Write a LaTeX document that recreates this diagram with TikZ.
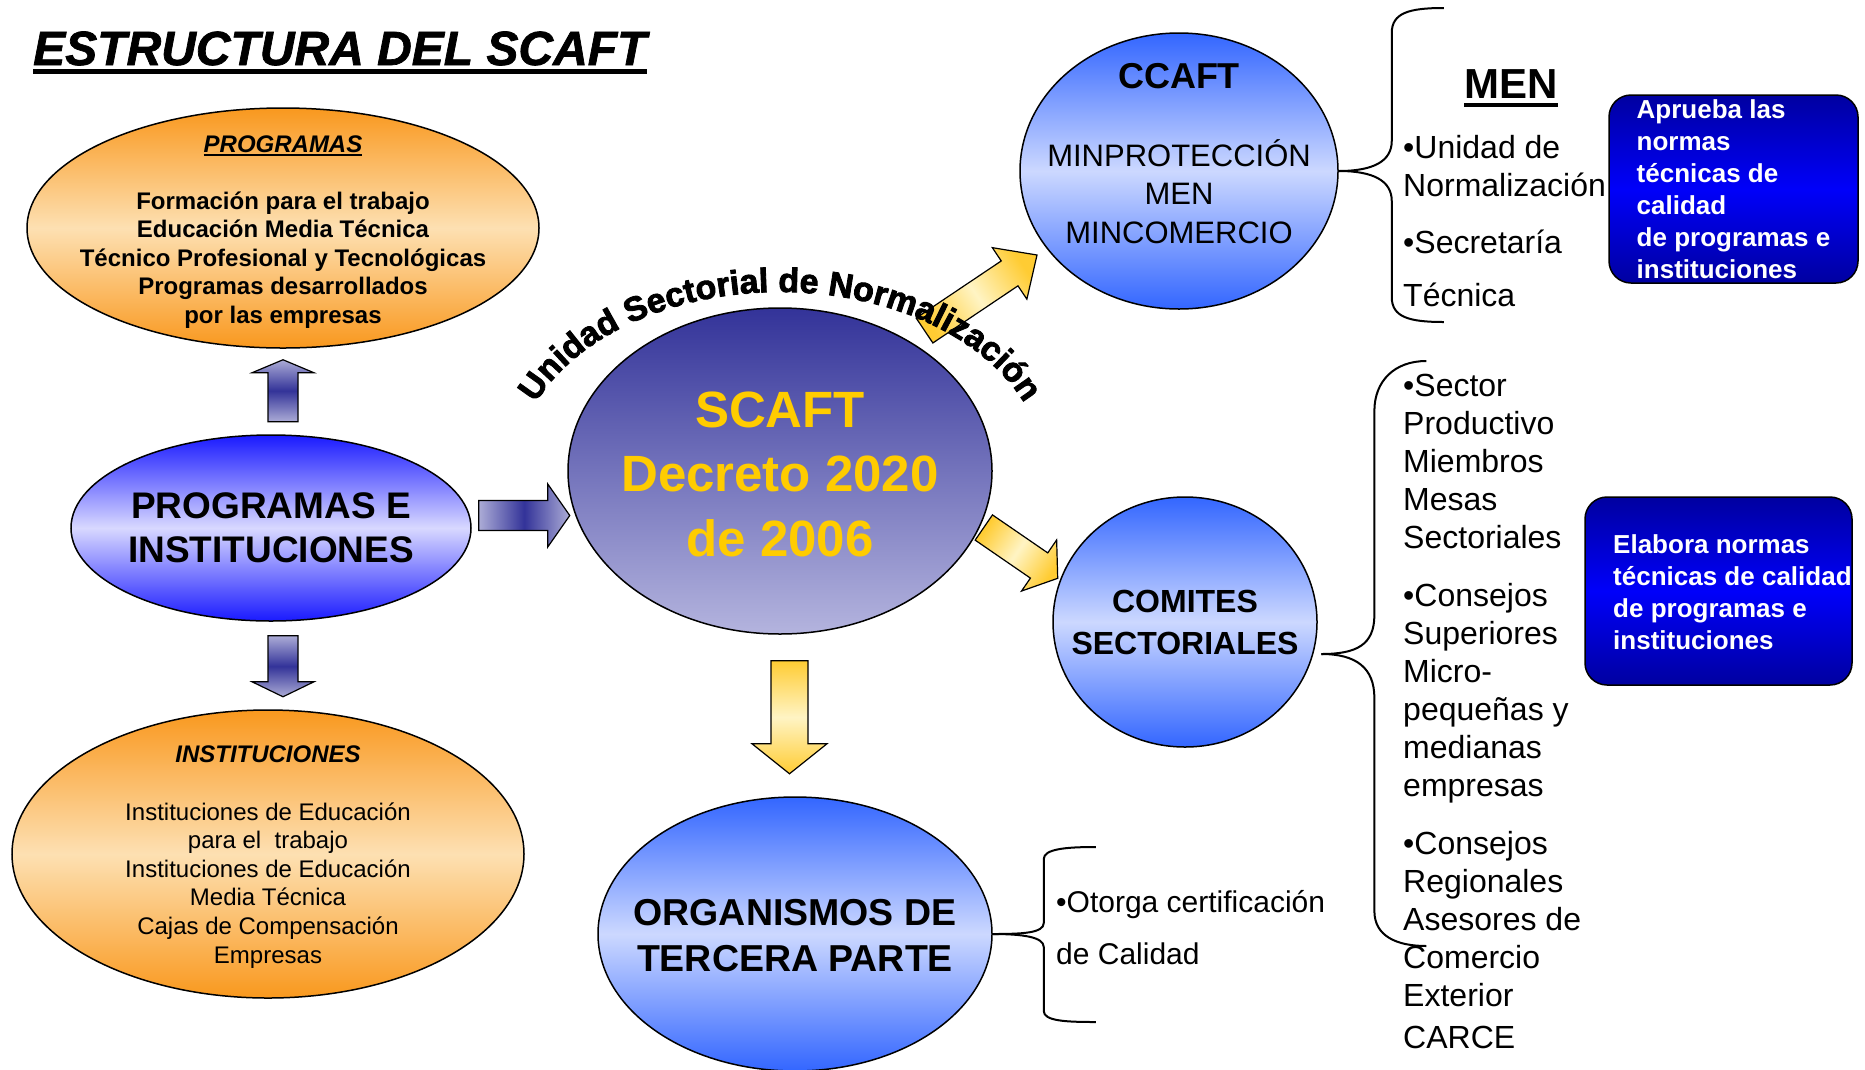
\documentclass[tikz,border=0pt]{standalone}
\usepackage{fontspec}
\setmainfont{Liberation Sans}
\newfontfamily\heavyfont{Liberation Sans Bold}[FakeBold=2.5]
\newfontfamily\heavyitalic{Liberation Sans Bold Italic}[FakeBold=1.5]
\usetikzlibrary{shapes.geometric,calc,decorations.text}

\definecolor{orangeedge}{RGB}{249,152,30}
\definecolor{orangemid}{RGB}{253,224,178}
\definecolor{blueedge}{RGB}{26,26,255}
\definecolor{bluemid}{RGB}{216,216,255}
\definecolor{skyedge}{RGB}{51,102,255}
\definecolor{skymid}{RGB}{204,216,255}
\definecolor{navytop}{RGB}{51,51,153}
\definecolor{navybottom}{RGB}{180,180,222}
\definecolor{boxdark}{RGB}{0,0,160}
\definecolor{boxbright}{RGB}{0,0,250}
\definecolor{scaftgold}{RGB}{255,204,0}
\definecolor{arrowgold}{RGB}{255,204,51}
\definecolor{arrowcream}{RGB}{255,244,196}
\definecolor{arrowlight}{RGB}{172,172,214}
\definecolor{arrowdark}{RGB}{51,51,153}

% underline with own depth and thickness
\newcommand{\ulbar}[3]{\setbox0\hbox{#3}\rlap{\rule[-#1]{\wd0}{#2}}\box0}
\newcommand{\curvefont}{\fontsize{34}{34}\selectfont\heavyfont}
% block arrow: style, tail, tip, half shaft, half head, head length
\newcommand{\blockarrow}[6]{%
  \coordinate (hb) at ($(#3)!#6!(#2)$);
  \shade[#1] ($(#2)!#4!90:(#3)$) -- ($(hb)!#4!-90:(#2)$) -- ($(hb)!#5!-90:(#2)$) -- (#3)
    -- ($(hb)!#5!90:(#2)$) -- ($(hb)!#4!90:(#2)$) -- ($(#2)!#4!-90:(#3)$) -- cycle;}

\tikzset{
  ball/.style={ellipse, draw=black, line width=1.5pt, inner sep=0pt},
  orangeball/.style={ball, top color=orangeedge, bottom color=orangeedge, middle color=orangemid},
  blueball/.style={ball, top color=blueedge, bottom color=blueedge, middle color=bluemid},
  skyball/.style={ball, top color=skyedge, bottom color=skyedge, middle color=skymid},
  balltext/.style={inner sep=0pt, align=center},
  bluebox/.style={rectangle, rounded corners=22pt, draw=black, line width=1.5pt, inner sep=0pt,
    top color=boxdark, bottom color=boxdark, middle color=boxbright, text=white, align=left,
    font=\fontsize{26}{32}\selectfont\bfseries},
  listtext/.style={anchor=north west, inner sep=0pt, align=left},
  bracket/.style={draw=black, line width=2pt},
  vbluearrow/.style={draw=black, line width=1.2pt, top color=arrowlight, bottom color=arrowlight, middle color=arrowdark},
  hbluearrow/.style={draw=black, line width=1.2pt, left color=arrowlight, right color=arrowlight, middle color=arrowdark},
  goldarrow/.style={draw=black, line width=1.2pt, top color=arrowgold, bottom color=arrowgold, middle color=arrowcream}
}

\begin{document}
\begin{tikzpicture}[x=1pt,y=-1pt]
  \fill[white] (0,0) rectangle (1865,1069);
  \useasboundingbox (0,0) rectangle (1865,1069);

  % Drawing title
  \node[anchor=base west, inner sep=0pt, font=\fontsize{48}{55}\selectfont\heavyitalic] (title) at (33,65) {\ulbar{9pt}{5pt}{ESTRUCTURA DEL SCAFT}};

  % Drawing ellipse PROGRAMAS
  \node[orangeball, minimum width=512pt, minimum height=240pt] (programas) at (283,228) {};
  \node[balltext, font=\fontsize{24}{28.5}\selectfont\bfseries] (programaslbl) at ($(programas.center)+(0,4)$)
    {{\itshape\ulbar{3.5pt}{1.5pt}{PROGRAMAS}}\\[28.5pt]Formación para el trabajo\\Educación Media Técnica\\Técnico Profesional y Tecnológicas\\Programas desarrollados\\por las empresas};

  % Drawing ellipse PROGRAMAS E INSTITUCIONES
  \node[blueball, minimum width=400pt, minimum height=186pt] (progins) at (271,528) {};
  \node[balltext, font=\fontsize{37}{44}\selectfont\bfseries] (proginslbl) at (progins.center) {PROGRAMAS E\\INSTITUCIONES};

  % Drawing ellipse INSTITUCIONES
  \node[orangeball, minimum width=512pt, minimum height=288pt] (instituciones) at (268,854) {};
  \node[balltext, font=\fontsize{24}{28.6}\selectfont] (institucioneslbl) at ($(instituciones.center)+(0,3)$)
    {{\bfseries\itshape INSTITUCIONES}\\[28.6pt]Instituciones de Educación\\para el\ \ trabajo\\Instituciones de Educación\\Media Técnica\\Cajas de Compensación\\Empresas};

  % Drawing ellipse SCAFT
  \node[ball, top color=navytop, bottom color=navybottom, minimum width=424pt, minimum height=326pt] (scaft) at (780,471) {};
  \node[balltext, text=scaftgold, font=\fontsize{51}{64.5}\selectfont\bfseries] (scaftlbl) at ($(scaft.center)+(0,3)$) {SCAFT\\Decreto 2020\\de 2006};

  % Drawing ellipse CCAFT
  \node[skyball, minimum width=318pt, minimum height=276pt] (ccaft) at (1179,171) {};
  \node[balltext, font=\fontsize{31}{38.5}\selectfont] (ccaftlbl) at (1179,153.5)
    {{\fontsize{36}{38.5}\selectfont\bfseries CCAFT}\\[39pt]MINPROTECCIÓN\\MEN\\MINCOMERCIO};

  % Marking MEN
  \node[anchor=base, inner sep=0pt, font=\fontsize{42}{46}\selectfont\bfseries] (men) at (1511,98) {\ulbar{9pt}{4pt}{MEN}};
  \node[listtext, font=\fontsize{32}{38}\selectfont] (menlist) at (1403,135) {•Unidad de\\Normalización\\[19pt]•Secretaría\\[15pt]Técnica};
  \node[bluebox, minimum width=249pt, minimum height=188pt] (aprueba) at (1733.5,189)
    {Aprueba las\\normas\\técnicas de\\calidad\\de programas e\\instituciones};

  % Drawing ellipse COMITES SECTORIALES
  \node[skyball, minimum width=264pt, minimum height=250pt] (comites) at (1185,622) {};
  \node[balltext, font=\fontsize{32}{42}\selectfont\bfseries] (comiteslbl) at (comites.center) {COMITES\\SECTORIALES};
  \node[listtext, font=\fontsize{32}{38}\selectfont] (comlist) at (1403,374)
    {•Sector\\Productivo\\Miembros\\Mesas\\Sectoriales\\[20pt]•Consejos\\Superiores\\Micro-\\pequeñas y\\medianas\\empresas\\[20pt]•Consejos\\Regionales\\Asesores de\\Comercio\\Exterior\\[4pt]CARCE};
  \node[bluebox, minimum width=267pt, minimum height=188pt] (elabora) at (1718.5,591) {};
  \node[anchor=west, inner sep=0pt, align=left, text=white, font=\fontsize{26}{32}\selectfont\bfseries] (elaboratxt) at (1613,592.5)
    {Elabora normas\\técnicas de calidad\\de programas e\\instituciones};

  % Drawing ellipse ORGANISMOS DE TERCERA PARTE
  \node[skyball, minimum width=394pt, minimum height=274pt] (organismos) at (795,934) {};
  \node[balltext, font=\fontsize{37.5}{46}\selectfont\bfseries] (organismoslbl) at ($(organismos.center)+(0,2)$) {ORGANISMOS DE\\TERCERA PARTE};
  \node[listtext, font=\fontsize{30}{52}\selectfont] (otorga) at (1056,890) {•Otorga certificación\\de Calidad};

  % Drawing brackets
  \draw[bracket] (ccaft.east) .. controls +(35,0) and +(0,20) .. ++(53,-30) -- ++(0,-108) .. controls +(0,-20) and +(-35,0) .. ++(52,-25);
  \draw[bracket] (ccaft.east) .. controls +(35,0) and +(0,-20) .. ++(53,30) -- ++(0,96) .. controls +(0,20) and +(-35,0) .. ++(52,25);
  \draw[bracket] ([xshift=8pt]comites.-14) .. controls +(35,0) and +(0,30) .. ++(53,-39) -- ++(0,-204) .. controls +(0,-30) and +(-32,0) .. ++(52,-50);
  \draw[bracket] ([xshift=8pt]comites.-14) .. controls +(35,0) and +(0,-30) .. ++(53,44) -- ++(0,213) .. controls +(0,25) and +(-30,0) .. ++(52,35);
  \draw[bracket] (organismos.east) .. controls +(30,0) and +(0,10) .. ++(51,-11) -- ++(0,-64) .. controls +(0,-10) and +(-30,0) .. ++(52,-12);
  \draw[bracket] (organismos.east) .. controls +(30,0) and +(0,-10) .. ++(51,13) -- ++(0,64) .. controls +(0,10) and +(-30,0) .. ++(52,11);

  % Drawing arrows
  \coordinate (upT) at ($(programas.south)+(0,73)$);
  \coordinate (upH) at ($(programas.south)+(0,11)$);
  \blockarrow{vbluearrow}{upT}{upH}{15pt}{31pt}{13pt}
  \coordinate (dnT) at ($(progins.south)+(12,14)$);
  \coordinate (dnH) at ($(progins.south)+(12,75)$);
  \blockarrow{vbluearrow}{dnT}{dnH}{15pt}{31pt}{15pt}
  \coordinate (rtT) at ($(progins.east)+(7,-12.5)$);
  \coordinate (rtH) at ($(progins.east)+(98,-12.5)$);
  \blockarrow{hbluearrow}{rtT}{rtH}{15pt}{31.5pt}{22pt}
  \coordinate (urT) at ($(scaft.center)+(144.5,-140.5)$);
  \coordinate (urH) at ($(scaft.center)+(257,-216)$);
  \blockarrow{goldarrow, shading angle=-56}{urT}{urH}{15pt}{31pt}{33pt}
  \coordinate (drT) at ($(scaft.center)+(203.8,56.5)$);
  \coordinate (drH) at ($(scaft.center)+(277.7,107.3)$);
  \blockarrow{goldarrow, shading angle=55.5}{drT}{drH}{15.3pt}{31pt}{22.6pt}
  \coordinate (sdT) at ($(scaft.south)+(9.5,26)$);
  \coordinate (sdH) at ($(scaft.south)+(9.5,139)$);
  \blockarrow{goldarrow}{sdT}{sdH}{18.5pt}{37.5pt}{30pt}

  % Marking text round SCAFT
  \path[decorate, decoration={text along path, text align=center, text={|\curvefont|Unidad Sectorial de Normalización}}]
    ([shift={(197:264 and 179)}]scaft.center) arc[start angle=197, end angle=343, x radius=264, y radius=179];
\end{tikzpicture}
\end{document}
